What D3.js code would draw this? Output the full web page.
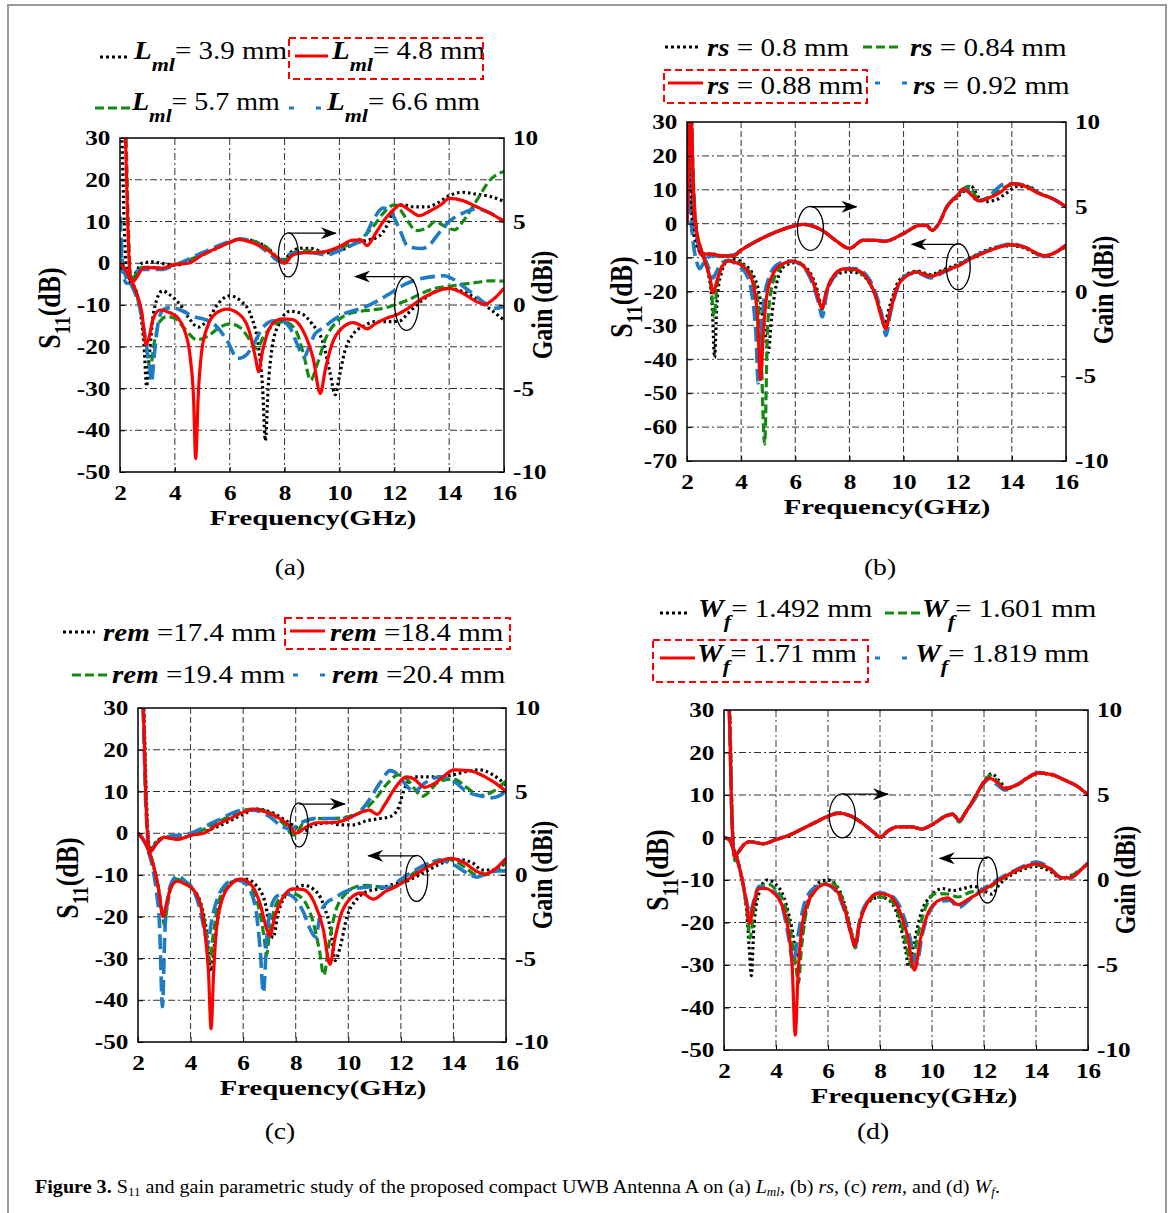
<!DOCTYPE html>
<html>
<head>
<meta charset="utf-8">
<script src="https://cdn.jsdelivr.net/npm/d3@7"></script>
<style>
  body { margin: 0; background: #fff; }
</style>
</head>
<body>
<div id="chart"></div>
<script>
'use strict';

// ---- ticks ----
const freqTicks = [2, 4, 6, 8, 10, 12, 14, 16];
const gainTicks = [-10, -5, 0, 5, 10];
const s11Ticks50 = [-50, -40, -30, -20, -10, 0, 10, 20, 30];
const s11Ticks70 = [-70, -60, -50, -40, -30, -20, -10, 0, 10, 20, 30];

// ---- legend values (order: dotted, red, green, blue) ----
const aLabels = ['3.9', '4.8', '5.7', '6.6'];
const bLabels = ['0.8', '0.88', '0.84', '0.92'];
const cLabels = ['17.4', '18.4', '19.4', '20.4'];
const dLabels = ['1.492', '1.71', '1.601', '1.819'];

// ---- (a) L_ml : S11 (dB) ----
const aS11Dot = [[2.0,-1],[2.2,-2.5],[2.4,-4.5],[2.6,-7],[2.75,-12],[2.88,-20],[2.97,-29.5],[3.07,-22],[3.2,-13],[3.35,-8.5],[3.55,-6.6],[3.8,-7.5],[4.2,-10],[4.5,-13],[4.85,-15.3],[5.2,-13.5],[5.6,-9.5],[6.0,-7.8],[6.4,-9],[6.8,-13],[7.05,-20],[7.2,-30],[7.3,-42.5],[7.4,-30],[7.55,-20],[7.8,-14.5],[8.2,-11.5],[8.6,-12],[9.0,-14.5],[9.4,-19],[9.65,-26],[9.85,-31.5],[10.0,-27],[10.2,-21],[10.5,-17],[10.9,-15],[11.3,-14],[11.8,-14],[12.2,-13.8],[12.5,-12],[12.9,-9.5],[13.3,-7.5],[13.7,-6.3],[14.0,-6],[14.5,-6.8],[15.0,-8.5],[15.5,-11],[16.0,-13.6]];
const aS11Red = [[2.0,0],[2.2,-1.5],[2.4,-4],[2.6,-7],[2.8,-12],[2.95,-19.5],[3.05,-18],[3.2,-13.5],[3.45,-11.2],[3.8,-11.8],[4.1,-13],[4.35,-16],[4.55,-22],[4.68,-32],[4.76,-46.8],[4.85,-32],[4.98,-21],[5.2,-15],[5.5,-12],[5.9,-11],[6.3,-12],[6.7,-16],[6.95,-23],[7.05,-26],[7.2,-21],[7.5,-15],[7.9,-13.3],[8.3,-13.5],[8.7,-16.5],[9.05,-23],[9.3,-31.2],[9.5,-25],[9.75,-19],[10.1,-15.5],[10.5,-14.2],[10.8,-15],[11.0,-15.7],[11.3,-14.5],[11.7,-13.2],[12.1,-12.3],[12.5,-10.8],[13.0,-8.5],[13.5,-6.8],[14.0,-6],[14.5,-7.2],[15.0,-9.2],[15.3,-9.8],[15.6,-8.7],[16.0,-6]];
const aS11Green = [[2.0,0],[2.2,-1.5],[2.4,-4],[2.6,-7.5],[2.8,-13],[2.95,-20],[3.1,-25],[3.25,-19],[3.45,-14],[3.7,-12.8],[4.0,-13.2],[4.4,-16],[4.8,-18.3],[5.2,-17.5],[5.6,-15.5],[6.0,-14.5],[6.4,-15.5],[6.8,-19],[7.0,-20.5],[7.2,-18],[7.6,-14.8],[8.0,-14],[8.4,-16],[8.7,-22],[8.95,-28],[9.2,-24],[9.5,-18],[9.9,-14],[10.4,-12],[11.0,-11.3],[11.6,-10.8],[12.0,-10],[12.5,-8.8],[13.0,-7.2],[13.5,-6],[14.0,-5.5],[14.5,-5],[15.0,-4.6],[15.5,-4.2],[16.0,-4.3]];
const aS11Blue = [[2.0,4.8],[2.1,0],[2.2,-3],[2.4,-5],[2.6,-8],[2.8,-13],[2.95,-19],[3.08,-25],[3.15,-28.5],[3.25,-22],[3.4,-14],[3.6,-11],[3.9,-10.6],[4.3,-11.5],[4.7,-12.8],[5.1,-13.5],[5.5,-15],[5.9,-18.5],[6.3,-22.8],[6.6,-22],[6.9,-19],[7.2,-15.5],[7.6,-13.8],[7.9,-13.8],[8.2,-15.5],[8.5,-20],[8.7,-22.5],[8.9,-20],[9.1,-17],[9.4,-15.5],[9.8,-13.5],[10.2,-12],[10.8,-10.8],[11.4,-9],[11.9,-7],[12.4,-5],[12.9,-3.8],[13.4,-3.2],[13.8,-3],[14.2,-4],[14.6,-6],[15.0,-8],[15.4,-10],[15.7,-10.8],[16.0,-10.3]];
// ---- (a) gain (dBi) ----
const aGainDot = [[2.02,11.5],[2.07,10],[2.15,5],[2.25,2],[2.4,1.5],[2.6,2],[2.8,2.5],[3.2,2.58],[3.5,2.5],[4.0,2.38],[4.5,2.63],[5.0,3],[5.5,3.38],[6.0,3.75],[6.4,3.95],[7.0,3.75],[7.4,3.38],[7.7,2.9],[7.95,2.7],[8.3,3.25],[8.6,3.4],[9.0,3.38],[9.5,3.13],[10.0,3.25],[10.5,3.63],[11.0,3.88],[11.3,4],[11.6,4.38],[11.8,5],[12.0,5.75],[12.3,6],[12.7,5.88],[13.2,5.88],[13.6,6.13],[14.0,6.55],[14.5,6.75],[15.0,6.63],[15.5,6.5],[16.0,6.2]];
const aGainRed = [[2.13,11.5],[2.2,10],[2.28,5],[2.4,1.3],[2.6,1.63],[2.8,2.13],[3.0,2.25],[3.5,2.2],[4.0,2.43],[4.5,2.5],[5.0,3],[5.5,3.38],[6.0,3.75],[6.3,3.93],[6.8,3.75],[7.3,3.38],[7.8,2.75],[8.0,2.5],[8.3,3],[8.7,3.13],[9.2,3.13],[9.6,3.25],[10.0,3.5],[10.5,3.88],[10.8,3.88],[11.0,3.55],[11.3,4.25],[11.6,5],[12.0,5.75],[12.2,6],[12.5,5.75],[12.9,5.35],[13.3,5.63],[13.7,6],[14.0,6.38],[14.5,6.25],[15.0,5.88],[15.5,5.5],[16.0,5]];
const aGainGreen = [[2.16,11.5],[2.22,10],[2.3,5],[2.4,1.5],[2.6,1.88],[2.8,2.25],[3.2,2.25],[3.5,2.2],[4.0,2.43],[5.0,3],[6.0,3.75],[6.4,3.95],[7.0,3.75],[7.5,3.25],[7.9,2.5],[8.2,3],[8.6,3.25],[9.0,3.25],[9.5,3.13],[10.0,3.38],[10.5,3.75],[10.8,4],[11.2,4.63],[11.6,5.5],[12.0,6],[12.2,5.75],[12.5,5],[12.8,4.45],[13.2,4.63],[13.5,5],[13.8,4.75],[14.2,4.5],[14.5,5],[15.0,6.25],[15.5,7.5],[16.0,8]];
const aGainBlue = [[2.0,5.3],[2.05,3.75],[2.12,1.75],[2.25,1.3],[2.4,1.3],[2.6,2],[2.8,2.13],[3.5,2.13],[4.0,2.38],[5.0,3.13],[6.0,3.8],[6.4,3.95],[7.0,3.63],[7.5,3],[7.8,2.63],[8.1,3],[8.5,3.13],[9.0,3.13],[9.5,3],[10.0,3.25],[10.5,3.63],[10.9,4],[11.2,5],[11.6,5.8],[11.9,5.5],[12.2,4.5],[12.5,3.5],[13.0,3.38],[13.3,3.63],[13.6,4.25],[14.0,5],[14.5,5.5],[15.0,5.75],[15.5,5.5],[16.0,5]];

// ---- (b) rs : S11 (dB) ----
const bS11Dot = [[2.0,31],[2.06,20],[2.15,8],[2.25,0],[2.4,-6],[2.6,-10],[2.8,-15],[2.93,-24],[3.02,-39.5],[3.1,-24],[3.25,-15],[3.5,-11],[3.8,-10.5],[4.1,-12],[4.4,-14.5],[4.65,-20],[4.85,-30],[5.0,-38],[5.12,-28],[5.3,-18],[5.6,-12.5],[6.0,-11.5],[6.4,-13],[6.75,-18],[6.98,-24],[7.2,-19],[7.55,-15],[7.9,-14.2],[8.3,-14.5],[8.7,-17],[9.05,-23],[9.3,-29],[9.5,-24],[9.75,-18],[10.1,-15],[10.5,-14],[11.0,-15],[11.5,-13.5],[12.0,-12],[12.5,-10],[13.0,-8],[13.5,-6.8],[14.0,-6.5],[14.5,-7.3],[15.0,-9.2],[15.3,-9.5],[15.6,-8.5],[16.0,-6.8]];
const bS11Red = [[2.0,0],[2.06,15],[2.12,33],[2.16,33],[2.2,20],[2.27,5],[2.35,-2],[2.5,-7],[2.7,-12],[2.85,-16],[2.97,-20.5],[3.1,-17],[3.3,-12.5],[3.55,-11],[3.9,-11.8],[4.2,-13.5],[4.45,-18],[4.6,-27],[4.72,-46],[4.82,-32],[4.95,-21],[5.2,-14.5],[5.5,-12],[5.9,-11],[6.3,-12.5],[6.6,-16],[6.85,-22],[6.98,-25],[7.15,-20],[7.45,-15],[7.8,-13.3],[8.2,-13.5],[8.6,-15.5],[8.95,-21],[9.2,-28],[9.33,-31],[9.5,-26],[9.75,-19],[10.1,-15.5],[10.5,-14.3],[11.0,-15.5],[11.5,-14],[12.0,-12.5],[12.5,-10.3],[13.0,-8.5],[13.5,-7],[14.0,-6.2],[14.5,-7],[15.0,-9],[15.2,-9.5],[15.6,-8.5],[16.0,-6.3]];
const bS11Green = [[2.0,0],[2.06,15],[2.12,33],[2.17,33],[2.21,20],[2.28,5],[2.36,-2],[2.5,-7],[2.7,-12],[2.88,-18],[3.0,-27.5],[3.1,-19],[3.3,-12.5],[3.55,-10.8],[3.9,-11.5],[4.2,-13],[4.5,-18],[4.7,-30],[4.87,-65],[4.97,-32],[5.1,-20],[5.35,-14],[5.7,-11.5],[6.0,-11],[6.3,-12.5],[6.6,-16],[6.85,-22],[6.98,-25.5],[7.15,-20],[7.45,-15],[7.8,-13.5],[8.2,-13.8],[8.6,-15.8],[8.95,-21],[9.2,-28],[9.33,-31],[9.5,-26],[9.75,-19],[10.1,-15.3],[10.5,-14.2],[11.0,-15.2],[11.5,-13.8],[12.0,-12.3],[12.5,-10],[13.0,-8.3],[13.5,-6.9],[14.0,-6.3],[14.5,-7],[15.0,-9],[15.2,-9.4],[15.6,-8.5],[16.0,-6.5]];
const bS11Blue = [[2.0,0],[2.05,12],[2.1,32],[2.16,32],[2.2,18],[2.28,3],[2.4,-5],[2.6,-9],[2.8,-13],[2.96,-16],[3.1,-14],[3.3,-11.5],[3.5,-10.8],[3.9,-12.5],[4.2,-15],[4.42,-22],[4.55,-33],[4.63,-47],[4.73,-33],[4.85,-22],[5.05,-15.5],[5.35,-12],[5.8,-11],[6.2,-12],[6.55,-16],[6.85,-23],[7.0,-27.5],[7.15,-21],[7.45,-15.5],[7.8,-13.3],[8.2,-13.2],[8.6,-15],[8.95,-20],[9.2,-27],[9.35,-33],[9.5,-27],[9.75,-19.5],[10.1,-15.2],[10.5,-14.5],[11.0,-16],[11.5,-14.2],[12.0,-12.5],[12.5,-10],[13.0,-8.3],[13.5,-6.8],[14.0,-6],[14.5,-7],[15.0,-9.2],[15.2,-9.7],[15.6,-8.5],[16.0,-6.3]];
// ---- (b) gain (dBi) ----
const bGainDot = [[2.0,10.5],[2.05,9],[2.12,6],[2.2,4],[2.3,3],[2.45,2.4],[2.7,2.2],[3.0,2.2],[3.3,2.1],[3.7,2.1],[4.0,2.44],[4.6,3],[5.3,3.52],[5.8,3.8],[6.3,3.96],[7.0,3.6],[7.5,3],[8.0,2.54],[8.5,3.02],[9.0,3.02],[9.3,2.96],[10.0,3.42],[10.6,3.9],[10.85,3.9],[11.05,3.6],[11.3,4],[11.6,5],[12.0,5.6],[12.3,6],[12.5,6.2],[12.75,5.6],[13.0,5.3],[13.4,5.4],[13.8,5.8],[14.2,6.2],[14.6,6.2],[15.0,5.8],[15.5,5.48],[16.0,5]];
const bGainRed = [[2.13,11],[2.18,7],[2.25,4.4],[2.35,3.4],[2.5,2.2],[2.9,2.2],[3.3,2.1],[3.7,2.1],[4.0,2.44],[4.6,3],[5.3,3.52],[5.8,3.8],[6.3,3.96],[7.0,3.6],[7.5,3],[8.0,2.54],[8.5,3.02],[9.0,3.02],[9.3,2.96],[10.0,3.42],[10.6,3.9],[10.85,3.9],[11.05,3.6],[11.3,4],[11.6,5],[12.0,5.68],[12.2,6.05],[12.5,5.7],[12.8,5.35],[13.1,5.48],[13.6,5.88],[14.0,6.36],[14.4,6.26],[15.0,5.78],[15.5,5.48],[16.0,5]];
const bGainGreen = [[2.14,11],[2.19,7],[2.26,4.4],[2.36,3.4],[2.5,2.25],[2.9,2.2],[3.3,2.1],[3.7,2.1],[4.0,2.44],[4.6,3],[5.3,3.52],[5.8,3.8],[6.3,3.96],[7.0,3.6],[7.5,3],[8.0,2.54],[8.5,3.02],[9.0,3.02],[9.3,2.96],[10.0,3.42],[10.6,3.9],[10.85,3.9],[11.05,3.6],[11.3,4],[11.6,5],[12.0,5.7],[12.4,6.2],[12.8,5.4],[13.3,5.7],[13.8,6.2],[14.2,6.3],[14.6,6.2],[15.0,5.8],[15.5,5.48],[16.0,5]];
const bGainBlue = [[2.0,10.4],[2.05,8],[2.12,5],[2.22,3],[2.35,1.8],[2.47,1.35],[2.65,1.8],[2.9,2.1],[3.3,2.1],[3.7,2.15],[4.0,2.44],[4.6,3],[5.3,3.52],[5.8,3.8],[6.3,3.96],[7.0,3.6],[7.5,3],[8.0,2.54],[8.5,3.02],[9.0,3.02],[9.3,2.96],[10.0,3.42],[10.6,3.9],[10.85,3.9],[11.05,3.6],[11.3,4],[11.6,5],[12.0,5.7],[12.3,6.05],[12.6,5.5],[12.8,5.35],[13.1,5.5],[13.4,6],[13.75,6.35],[14.2,6.35],[14.6,6.15],[15.0,5.8],[15.5,5.48],[16.0,5]];

// ---- (c) rem : S11 (dB) ----
const cS11Dot = [[2.0,0],[2.2,-1.5],[2.4,-4],[2.6,-8],[2.8,-14],[2.93,-19.5],[3.05,-19],[3.2,-14],[3.45,-11.5],[3.8,-12],[4.1,-13.5],[4.4,-17],[4.6,-23],[4.78,-33],[4.92,-26],[5.1,-18],[5.4,-13],[5.75,-11.2],[6.1,-11],[6.5,-12.5],[6.85,-17],[7.05,-24],[7.15,-25],[7.3,-20],[7.6,-15],[8.0,-13],[8.3,-12.5],[8.7,-13.5],[9.05,-17],[9.35,-24],[9.5,-30.5],[9.7,-27],[9.95,-20],[10.3,-16],[10.7,-14],[11.2,-13.3],[11.7,-12.2],[12.2,-11.5],[12.7,-10],[13.2,-8.3],[13.7,-6.8],[14.2,-6.3],[14.7,-7],[15.1,-8.8],[15.5,-8.8],[16.0,-7]];
const cS11Red = [[2.0,0],[2.2,-1.5],[2.4,-4],[2.6,-8],[2.8,-14],[2.95,-20],[3.08,-17],[3.25,-13],[3.5,-11.5],[3.8,-12.2],[4.1,-13.5],[4.35,-16.5],[4.55,-24],[4.68,-33],[4.78,-46.8],[4.88,-33],[5.0,-22],[5.25,-15],[5.55,-12.2],[5.9,-11],[6.3,-12.3],[6.65,-17],[6.9,-23],[7.02,-24.5],[7.2,-20],[7.5,-15.5],[7.9,-13.3],[8.3,-13.5],[8.7,-16.5],[9.05,-23],[9.3,-31.4],[9.5,-25],[9.75,-19],[10.1,-15.5],[10.5,-14.3],[10.95,-15.8],[11.4,-14],[11.9,-12.5],[12.4,-10.5],[12.9,-8.5],[13.4,-6.9],[13.9,-6],[14.4,-7],[14.9,-9.2],[15.2,-9.8],[15.6,-8.5],[16.0,-6]];
const cS11Green = [[2.0,0],[2.2,-1.5],[2.4,-4],[2.6,-8],[2.8,-14],[2.92,-19],[3.0,-22],[3.1,-18],[3.25,-13],[3.45,-11],[3.8,-12],[4.1,-13.5],[4.4,-17.5],[4.6,-24],[4.73,-30.8],[4.87,-24],[5.05,-17],[5.35,-12.8],[5.7,-11.3],[5.95,-11],[6.3,-12.8],[6.6,-18],[6.8,-25],[6.89,-29.2],[7.0,-24],[7.2,-18],[7.5,-15],[7.9,-14.5],[8.3,-16],[8.65,-21],[8.9,-28],[9.07,-34],[9.25,-27],[9.5,-19],[9.9,-14.5],[10.3,-12.8],[10.7,-12.5],[11.1,-12.8],[11.5,-13.3],[12.0,-11.8],[12.5,-9.5],[13.0,-7.6],[13.5,-6.3],[13.9,-6.3],[14.4,-8],[14.9,-10],[15.2,-10],[15.6,-8.7],[16.0,-7]];
const cS11Blue = [[2.0,0],[2.2,-1.5],[2.4,-4.5],[2.55,-8],[2.7,-14],[2.82,-22],[2.93,-41.5],[3.02,-24],[3.15,-15],[3.3,-11.5],[3.5,-10.2],[3.8,-11.5],[4.1,-13.5],[4.35,-18],[4.55,-24],[4.65,-26.5],[4.8,-21],[5.0,-16],[5.3,-12.5],[5.65,-11.2],[5.95,-11.5],[6.25,-13.5],[6.5,-19],[6.65,-28],[6.77,-38.2],[6.9,-25],[7.05,-18],[7.3,-15],[7.6,-14.5],[7.95,-15.5],[8.3,-19],[8.55,-23],[8.75,-24.8],[8.95,-19],[9.2,-16.5],[9.5,-15.5],[9.8,-14.2],[10.1,-13.5],[10.6,-13],[11.0,-12.8],[11.5,-13],[12.0,-11],[12.5,-9],[13.0,-7.3],[13.5,-6.5],[14.0,-7.5],[14.5,-9.5],[14.9,-10.5],[15.3,-9.5],[15.7,-9],[16.0,-9]];
// ---- (c) gain (dBi) ----
const cGainDot = [[2.16,11.25],[2.22,10],[2.32,4.5],[2.45,1.5],[2.7,2],[3.0,2.25],[3.5,2.18],[4.0,2.35],[5.0,2.88],[6.0,3.63],[6.5,3.95],[7.0,3.8],[7.5,3.38],[8.0,2.88],[8.3,2.63],[8.7,3],[9.3,3.13],[9.7,3],[10.2,3],[10.7,3.25],[11.2,3.38],[11.6,3.5],[11.9,4],[12.1,5],[12.5,5.88],[13.0,5.88],[13.5,5.88],[14.0,6],[14.5,6.2],[15.0,6.3],[15.5,6],[16.0,5.38]];
const cGainRed = [[2.14,11.25],[2.2,10],[2.3,4.5],[2.45,1.38],[2.7,1.88],[3.0,2.25],[3.5,2.13],[4.0,2.38],[4.5,2.5],[5.0,3],[5.5,3.38],[6.0,3.75],[6.4,3.95],[6.9,3.75],[7.4,3.38],[7.8,2.88],[8.0,2.5],[8.4,2.88],[8.8,3.13],[9.3,3.13],[9.8,3.25],[10.3,3.63],[10.8,3.88],[11.1,3.63],[11.4,4.25],[11.8,5.25],[12.2,5.88],[12.5,5.75],[12.9,5.25],[13.3,5.5],[13.7,6],[14.0,6.3],[14.6,6.25],[15.2,5.88],[15.6,5.5],[16.0,5]];
const cGainGreen = [[2.15,11.25],[2.21,10],[2.31,4.5],[2.45,1.38],[2.7,2],[3.0,2.25],[3.5,2.18],[4.0,2.38],[5.0,3.13],[6.0,3.88],[6.4,3.95],[7.0,3.75],[7.5,3.13],[7.95,2.38],[8.3,3.13],[8.8,3.38],[9.4,3.38],[10.0,3.5],[10.6,3.88],[11.0,4.5],[11.5,5.5],[11.9,6],[12.3,5.63],[12.55,5.1],[12.8,4.7],[13.5,5.63],[14.0,5.75],[14.5,5.25],[15.0,4.75],[15.5,5],[16.0,5.63]];
const cGainBlue = [[2.13,11.25],[2.19,10],[2.29,4.5],[2.45,1.38],[2.7,1.88],[3.0,2.25],[4.0,2.5],[5.0,3.25],[6.0,3.88],[6.4,3.88],[7.0,3.5],[7.5,2.88],[7.8,2.75],[8.2,3.13],[8.7,3.38],[9.3,3.38],[9.8,3.38],[10.4,3.75],[10.8,4.5],[11.2,5.5],[11.6,6.25],[11.9,6],[12.2,5.38],[12.5,5],[12.9,5.5],[13.5,5.88],[14.0,5.63],[14.5,5],[15.0,4.75],[15.5,4.63],[16.0,5]];

// ---- (d) W_f : S11 (dB) ----
const dS11Dot = [[2.0,0],[2.2,-0.5],[2.35,-2.5],[2.5,-5],[2.7,-10],[2.88,-18],[2.98,-27],[3.05,-32.5],[3.15,-21],[3.35,-13],[3.65,-10],[3.95,-10.8],[4.3,-14],[4.6,-21],[4.82,-28],[4.95,-25],[5.15,-17],[5.45,-12],[5.8,-10.2],[6.0,-10],[6.35,-11.5],[6.7,-17],[6.95,-23.5],[7.05,-25.5],[7.25,-19],[7.6,-15],[8.0,-14],[8.4,-15],[8.75,-20],[9.0,-27],[9.1,-30.4],[9.3,-25],[9.6,-17.5],[10.0,-13.5],[10.4,-12],[10.8,-12.5],[11.2,-12],[11.6,-11.5],[12.0,-12.5],[12.3,-13.3],[12.6,-11],[13.0,-9],[13.5,-7.5],[14.0,-6.8],[14.5,-7.8],[15.0,-9.6],[15.4,-8.8],[16.0,-6.2]];
const dS11Red = [[2.0,0],[2.2,-0.5],[2.35,-2.5],[2.5,-5],[2.7,-10],[2.88,-16],[2.99,-20.2],[3.12,-16],[3.35,-12],[3.6,-12],[3.9,-13],[4.2,-15.5],[4.45,-21],[4.62,-30],[4.74,-46.5],[4.85,-32],[5.0,-21],[5.25,-15],[5.55,-12.2],[5.9,-11],[6.3,-12.3],[6.65,-17],[6.9,-23],[7.02,-25.5],[7.2,-20.5],[7.5,-15.5],[7.9,-13.2],[8.3,-13.5],[8.7,-16.5],[9.05,-23],[9.33,-31.2],[9.55,-24],[9.8,-18.5],[10.2,-15],[10.6,-14.2],[11.0,-15.8],[11.4,-14.5],[12.0,-12.3],[12.5,-10.3],[13.0,-8.5],[13.5,-7],[14.0,-6.2],[14.5,-7.2],[15.0,-9.5],[15.3,-9.5],[15.7,-7.8],[16.0,-6]];
const dS11Green = [[2.0,0],[2.2,-0.5],[2.35,-2.5],[2.5,-5],[2.7,-10],[2.88,-17],[3.0,-23.7],[3.15,-17],[3.4,-11.5],[3.7,-11],[4.0,-12.3],[4.35,-16],[4.62,-24],[4.78,-31],[4.86,-34.3],[4.98,-26],[5.15,-18],[5.45,-13],[5.8,-11],[6.1,-10.6],[6.5,-13.5],[6.85,-21],[7.05,-26],[7.25,-19],[7.65,-14.5],[8.0,-14],[8.45,-15],[8.85,-21],[9.1,-28],[9.22,-30.5],[9.42,-24],[9.75,-16.5],[10.15,-13.2],[10.6,-13.3],[11.0,-14],[11.5,-12.8],[12.0,-12.5],[12.5,-10.5],[13.0,-8.6],[13.5,-7.2],[14.0,-6.5],[14.5,-7.3],[15.0,-9.5],[15.4,-8.8],[16.0,-6]];
const dS11Blue = [[2.0,0],[2.2,-0.5],[2.35,-2.5],[2.5,-5],[2.7,-10],[2.85,-14.5],[3.0,-18],[3.12,-15.5],[3.35,-11.5],[3.7,-12.3],[4.0,-13.2],[4.25,-16.5],[4.5,-24],[4.66,-29.6],[4.82,-24],[5.05,-16.5],[5.4,-12.2],[5.85,-11],[6.25,-12.2],[6.65,-17.5],[6.95,-24],[7.05,-25.5],[7.22,-19.5],[7.55,-14.8],[8.0,-13],[8.45,-13.8],[8.85,-17.5],[9.15,-23.5],[9.4,-30],[9.62,-23],[9.9,-17.5],[10.3,-15],[10.7,-14.8],[11.0,-16.5],[11.5,-14.3],[12.0,-12],[12.5,-10],[13.0,-8.3],[13.5,-6.8],[14.0,-5.8],[14.5,-7],[15.0,-9.5],[15.3,-9.5],[15.7,-7.8],[16.0,-6]];
// ---- (d) gain (dBi) ----
const dGainDot = [[2.15,11.25],[2.21,10],[2.31,3.75],[2.4,1.38],[2.6,1.75],[2.8,2.13],[3.0,2.25],[3.5,2.13],[4.0,2.38],[4.5,2.63],[5.0,3],[5.5,3.38],[6.0,3.75],[6.4,3.93],[6.9,3.75],[7.4,3.25],[7.8,2.75],[8.0,2.5],[8.3,2.88],[8.7,3.13],[9.2,3.13],[9.6,3],[10.0,3.25],[10.5,3.75],[10.8,3.88],[11.05,3.5],[11.3,4],[11.7,5],[12.0,5.8],[12.3,6.25],[12.6,5.8],[12.9,5.4],[13.3,5.63],[13.8,6.1],[14.1,6.28],[14.6,6.2],[15.1,5.88],[15.6,5.5],[16.0,5]];
const dGainRed = [[2.14,11.25],[2.2,10],[2.3,3.75],[2.4,1.38],[2.6,1.75],[2.8,2.13],[3.0,2.25],[3.5,2.13],[4.0,2.38],[4.5,2.63],[5.0,3],[5.5,3.38],[6.0,3.75],[6.4,3.93],[6.9,3.75],[7.4,3.25],[7.8,2.75],[8.0,2.5],[8.3,2.88],[8.7,3.13],[9.2,3.13],[9.6,3],[10.0,3.25],[10.5,3.75],[10.8,3.88],[11.05,3.5],[11.3,4],[11.7,5],[12.0,5.75],[12.2,6],[12.5,5.75],[12.8,5.38],[13.3,5.63],[13.8,6.13],[14.1,6.3],[14.6,6.2],[15.1,5.88],[15.6,5.5],[16.0,5]];
const dGainGreen = [[2.16,11.25],[2.22,10],[2.32,3.5],[2.42,1.13],[2.6,1.7],[2.8,2.13],[3.0,2.25],[3.5,2.13],[4.0,2.38],[4.5,2.63],[5.0,3],[5.5,3.38],[6.0,3.75],[6.4,3.9],[6.9,3.75],[7.4,3.25],[7.8,2.75],[8.0,2.5],[8.3,2.88],[8.7,3.13],[9.2,3.13],[9.6,3],[10.0,3.25],[10.5,3.7],[10.8,3.85],[11.05,3.4],[11.3,4],[11.7,5],[12.0,5.8],[12.25,6.15],[12.55,5.75],[12.85,5.35],[13.3,5.6],[13.8,6.1],[14.1,6.28],[14.6,6.2],[15.1,5.88],[15.6,5.5],[16.0,5]];
const dGainBlue = [[2.14,11.25],[2.2,10],[2.3,3.75],[2.4,1.4],[2.6,1.75],[2.8,2.13],[3.0,2.25],[3.5,2.13],[4.0,2.38],[4.5,2.63],[5.0,3],[5.5,3.38],[6.0,3.75],[6.4,3.95],[6.9,3.75],[7.4,3.25],[7.8,2.75],[8.0,2.5],[8.3,2.88],[8.7,3.13],[9.2,3.13],[9.6,3],[10.0,3.25],[10.5,3.75],[10.8,3.88],[11.05,3.5],[11.3,4],[11.7,4.9],[12.0,5.7],[12.2,5.95],[12.5,5.6],[12.8,5.3],[13.3,5.63],[13.8,6.15],[14.1,6.32],[14.6,6.22],[15.1,5.88],[15.6,5.5],[16.0,5]];

// ---- look ----
const W = 1171, H = 1213;
const SX = 1.2; // the reference is stretched sideways
const FONT = '"Liberation Serif","Times New Roman",serif';
const styles = [
    { color: '#000000', dash: '2.5,3', width: 3.2 },
    { color: '#ff0000', dash: null, width: 3.2 },
    { color: '#138a13', dash: '9,4', width: 3.2 },
    { color: '#1f7cc4', dash: '15,6', width: 3.6 }
];
const drawOrder = [0, 2, 3, 1];

const panels = [
    {
        left: 120, top: 138, right: 504, bottom: 472,
        s11Domain: [-50, 30], s11Ticks: s11Ticks50,
        s11: [aS11Dot, aS11Red, aS11Green, aS11Blue],
        gain: [aGainDot, aGainRed, aGainGreen, aGainBlue],
        s11Label: [60, 308], gainLabel: [552, 305], freqX: 313, vDash: '7,3,2,3',
        tag: '(a)', tagPos: [290, 575],
        ellipses: [{ f: 8.14, v: 2, rx: 10, ry: 22, ay: 7.2, ax: 9.87 }, { f: 12.45, v: -9.6, rx: 12, ry: 27, ay: -3.2, ax: 10.57 }],
        labels: aLabels, sym: 'L', sub: 'ml', subDy: 12, text: v => '= ' + v + ' mm',
        legend: [
            { x1: 100, x2: 128, ly: 57, tx: 134, ty: 59 },
            { x1: 295, x2: 328, ly: 56, tx: 332, ty: 59 },
            { x1: 95, x2: 130, ly: 108, tx: 132, ty: 110 },
            { x1: 289, x2: 321, ly: 108, tx: 327, ty: 110 }
        ],
        box: [289, 38, 194, 41]
    },
    {
        left: 687, top: 122, right: 1066, bottom: 461,
        s11Domain: [-70, 30], s11Ticks: s11Ticks70,
        s11: [bS11Dot, bS11Red, bS11Green, bS11Blue],
        gain: [bGainDot, bGainRed, bGainGreen, bGainBlue],
        s11Label: [632, 297], gainLabel: [1113, 290], freqX: 887, vDash: '6,3',
        tag: '(b)', tagPos: [880, 575],
        ellipses: [{ f: 6.56, v: -1.4, rx: 13, ry: 22, ay: 5, ax: 8.26 }, { f: 12.02, v: -12.7, rx: 12, ry: 23, ay: -6.1, ax: 10.3 }],
        labels: bLabels, sym: 'rs', sub: null, subDy: 0, text: v => ' = ' + v + ' mm',
        legend: [
            { x1: 665, x2: 698, ly: 47, tx: 707, ty: 56 },
            { x1: 668, x2: 703, ly: 83, tx: 707, ty: 94 },
            { x1: 863, x2: 902, ly: 47, tx: 910, ty: 56 },
            { x1: 875, x2: 907, ly: 83, tx: 913, ty: 94 }
        ],
        box: [664, 70, 203, 33]
    },
    {
        left: 138, top: 708, right: 506, bottom: 1042,
        s11Domain: [-50, 30], s11Ticks: s11Ticks50,
        s11: [cS11Dot, cS11Red, cS11Green, cS11Blue],
        gain: [cGainDot, cGainRed, cGainGreen, cGainBlue],
        s11Label: [78, 878], gainLabel: [552, 875], freqX: 323, vDash: '6,3',
        tag: '(c)', tagPos: [280, 1139],
        ellipses: [{ f: 8.13, v: 2, rx: 9, ry: 22, ay: 7, ax: 9.87 }, { f: 12.6, v: -10.8, rx: 11, ry: 23, ay: -5.4, ax: 10.76 }],
        labels: cLabels, sym: 'rem', sub: null, subDy: 0, text: v => ' =' + v + ' mm',
        legend: [
            { x1: 63, x2: 95, ly: 632, tx: 103, ty: 641 },
            { x1: 290, x2: 325, ly: 631, tx: 330, ty: 641 },
            { x1: 72, x2: 108, ly: 675, tx: 112, ty: 683 },
            { x1: 293, x2: 327, ly: 675, tx: 332, ty: 683 }
        ],
        box: [285, 618, 225, 31]
    },
    {
        left: 724, top: 710, right: 1088, bottom: 1050,
        s11Domain: [-50, 30], s11Ticks: s11Ticks50,
        s11: [dS11Dot, dS11Red, dS11Green, dS11Blue],
        gain: [dGainDot, dGainRed, dGainGreen, dGainBlue],
        s11Label: [668, 870], gainLabel: [1135, 880], freqX: 914, vDash: '7,3,2,3',
        tag: '(d)', tagPos: [873, 1139],
        ellipses: [{ f: 6.55, v: 5.1, rx: 13, ry: 22, ay: 10.2, ax: 8.31 }, { f: 12.13, v: -10, rx: 10, ry: 23, ay: -4.9, ax: 10.3 }],
        labels: dLabels, sym: 'W', sub: 'f', subDy: 11, text: v => '= ' + v + ' mm',
        legend: [
            { x1: 660, x2: 688, ly: 613, tx: 698, ty: 617 },
            { x1: 660, x2: 695, ly: 658, tx: 697, ty: 662 },
            { x1: 885, x2: 920, ly: 613, tx: 922, ty: 617 },
            { x1: 875, x2: 910, ly: 658, tx: 915, ty: 662 }
        ],
        box: [653, 640, 215, 42]
    }
];

var svg = d3.select('#chart').append('svg')
    .attr('width', W).attr('height', H)
    .style('font-family', FONT);

svg.append('rect').attr('width', W).attr('height', H).attr('fill', '#fff');

// arrow head
svg.append('defs').append('marker')
    .attr('id', 'arrow')
    .attr('viewBox', '0 0 16 12')
    .attr('refX', 15).attr('refY', 6)
    .attr('markerWidth', 16).attr('markerHeight', 12)
    .attr('markerUnits', 'userSpaceOnUse')
    .attr('orient', 'auto')
    .append('path').attr('d', 'M0,0 L16,6 L0,12 L5,6 Z').attr('fill', '#000');

// outer frame
svg.append('rect')
    .attr('x', 8).attr('y', 5).attr('width', 1158).attr('height', 1240)
    .attr('fill', 'none').attr('stroke', '#9a9a9a').attr('stroke-width', 2);

function stretchedText(parent, x, y, size, weight, anchor, sx) {
    return parent.append('text')
        .attr('transform', 'translate(' + x + ',' + y + ') scale(' + (sx || SX) + ',1)')
        .attr('text-anchor', anchor || 'start')
        .style('font-size', size + 'px')
        .style('font-weight', weight || 'normal')
        .attr('fill', '#000');
}

panels.forEach(function (p, pi) {
    var g = svg.append('g');
    var x = d3.scaleLinear().domain([2, 16]).range([p.left, p.right]);
    var y = d3.scaleLinear().domain(p.s11Domain).range([p.bottom, p.top]);
    var yg = d3.scaleLinear().domain([-10, 10]).range([p.bottom, p.top]);

    // grid
    var grid = g.append('g').attr('stroke', '#333').attr('stroke-width', 1);
    p.s11Ticks.slice(1, -1).forEach(function (t) {
        grid.append('line')
            .attr('x1', p.left).attr('x2', p.right)
            .attr('y1', y(t)).attr('y2', y(t))
            .attr('stroke-dasharray', '7,3,2,3');
    });
    freqTicks.slice(1, -1).forEach(function (t) {
        grid.append('line')
            .attr('x1', x(t)).attr('x2', x(t))
            .attr('y1', p.top).attr('y2', p.bottom)
            .attr('stroke-dasharray', p.vDash);
    });

    // clip
    var clipId = 'clip' + pi;
    g.append('clipPath').attr('id', clipId).append('rect')
        .attr('x', p.left).attr('y', p.top)
        .attr('width', p.right - p.left).attr('height', p.bottom - p.top);

    var curves = g.append('g').attr('clip-path', 'url(#' + clipId + ')');
    var lineS11 = d3.line().x(d => x(d[0])).y(d => y(d[1])).curve(d3.curveMonotoneX);
    var lineGain = d3.line().x(d => x(d[0])).y(d => yg(d[1])).curve(d3.curveMonotoneX);

    function drawCurve(data, gen, s) {
        curves.append('path')
            .attr('d', gen(data))
            .attr('fill', 'none')
            .attr('stroke', s.color)
            .attr('stroke-width', s.width)
            .attr('stroke-dasharray', s.dash)
            .attr('stroke-linejoin', 'round');
    }
    drawOrder.forEach(function (i) { drawCurve(p.gain[i], lineGain, styles[i]); });
    drawOrder.forEach(function (i) { drawCurve(p.s11[i], lineS11, styles[i]); });

    // frame
    g.append('rect')
        .attr('x', p.left).attr('y', p.top)
        .attr('width', p.right - p.left).attr('height', p.bottom - p.top)
        .attr('fill', 'none').attr('stroke', '#000').attr('stroke-width', 1.5);

    // axes
    function styleAxis(sel) {
        sel.select('.domain').remove();
        sel.selectAll('.tick line').attr('stroke', '#000');
        sel.selectAll('.tick text')
            .attr('fill', '#000')
            .style('font-family', FONT)
            .style('font-size', '21px')
            .style('font-weight', 'bold')
            .attr('transform', 'scale(' + SX + ',1)');
    }
    var plain = d => String(d);
    g.append('g').attr('transform', 'translate(' + p.left + ',0)')
        .call(d3.axisLeft(y).tickValues(p.s11Ticks).tickFormat(plain).tickSize(-5).tickPadding(8))
        .call(styleAxis);
    g.append('g').attr('transform', 'translate(' + p.right + ',0)')
        .call(d3.axisRight(yg).tickValues(gainTicks).tickFormat(plain).tickSize(-5).tickPadding(7.5))
        .call(styleAxis);
    g.append('g').attr('transform', 'translate(0,' + p.bottom + ')')
        .call(d3.axisBottom(x).tickValues(freqTicks).tickFormat(plain).tickSize(-5).tickPadding(13))
        .call(styleAxis);

    // axis titles
    stretchedText(g, p.freqX, p.bottom + 53, 22, 'bold', 'middle')
        .attr('textLength', 172).attr('lengthAdjust', 'spacingAndGlyphs')
        .text('Frequency(GHz)');

    var s11t = g.append('text')
        .attr('transform', 'translate(' + p.s11Label[0] + ',' + p.s11Label[1] + ') scale(' + SX + ',1) rotate(-90)')
        .attr('text-anchor', 'middle')
        .style('font-size', '26px').style('font-weight', 'bold');
    s11t.append('tspan').text('S');
    s11t.append('tspan').attr('dy', 8).style('font-size', '19px').text('11');
    s11t.append('tspan').attr('dy', -8).text('(dB)');

    g.append('text')
        .attr('transform', 'translate(' + p.gainLabel[0] + ',' + p.gainLabel[1] + ') scale(' + SX + ',1) rotate(-90)')
        .attr('text-anchor', 'middle')
        .style('font-size', '24px').style('font-weight', 'bold')
        .text('Gain (dBi)');

    stretchedText(g, p.tagPos[0], p.tagPos[1], 23, 'normal', 'middle').text(p.tag);

    // ellipses and arrows
    p.ellipses.forEach(function (e) {
        g.append('ellipse')
            .attr('cx', x(e.f)).attr('cy', y(e.v))
            .attr('rx', e.rx).attr('ry', e.ry)
            .attr('fill', 'none').attr('stroke', '#000').attr('stroke-width', 1.3);
        g.append('line')
            .attr('x1', x(e.f)).attr('y1', y(e.ay))
            .attr('x2', x(e.ax)).attr('y2', y(e.ay))
            .attr('stroke', '#000').attr('stroke-width', 1.3)
            .attr('marker-end', 'url(#arrow)');
    });

    // legend
    var leg = svg.append('g');
    p.legend.forEach(function (L, i) {
        var s = styles[i];
        var dash = s.dash;
        if (i === 3) dash = '5,22';
        if (i === 0) dash = '3,3';
        leg.append('line')
            .attr('x1', L.x1).attr('x2', L.x2).attr('y1', L.ly).attr('y2', L.ly)
            .attr('stroke', s.color).attr('stroke-width', 3.2)
            .attr('stroke-dasharray', dash);
        var t = stretchedText(leg, L.tx, L.ty, 25, 'normal', 'start', pi === 0 && i === 2 ? 1.12 : 1.16);
        t.append('tspan').style('font-weight', 'bold').style('font-style', 'italic').text(p.sym);
        if (p.sub) {
            t.append('tspan').attr('dy', p.subDy)
                .style('font-weight', 'bold').style('font-style', 'italic').style('font-size', '19px')
                .text(p.sub);
            t.append('tspan').attr('dy', -p.subDy).text(p.text(p.labels[i]));
        } else {
            t.append('tspan').text(p.text(p.labels[i]));
        }
    });
    leg.append('rect')
        .attr('x', p.box[0]).attr('y', p.box[1]).attr('width', p.box[2]).attr('height', p.box[3])
        .attr('fill', 'none').attr('stroke', '#ff0000').attr('stroke-width', 2)
        .attr('stroke-dasharray', '7,4');
});

// caption
var cap = svg.append('text')
    .attr('x', 35).attr('y', 1193)
    .attr('textLength', 965).attr('lengthAdjust', 'spacingAndGlyphs')
    .style('font-size', '18.5px').attr('fill', '#000');
cap.append('tspan').style('font-weight', 'bold').text('Figure 3.');
cap.append('tspan').text(' S');
cap.append('tspan').attr('dy', 3).style('font-size', '12px').text('11');
cap.append('tspan').attr('dy', -3).text(' and gain parametric study of the proposed compact UWB Antenna A on (a) ');
cap.append('tspan').style('font-style', 'italic').text('L');
cap.append('tspan').attr('dy', 3).style('font-style', 'italic').style('font-size', '12px').text('ml');
cap.append('tspan').attr('dy', -3).text(', (b) ');
cap.append('tspan').style('font-style', 'italic').text('rs');
cap.append('tspan').text(', (c) ');
cap.append('tspan').style('font-style', 'italic').text('rem');
cap.append('tspan').text(', and (d) ');
cap.append('tspan').style('font-style', 'italic').text('W');
cap.append('tspan').attr('dy', 3).style('font-style', 'italic').style('font-size', '12px').text('f');
cap.append('tspan').attr('dy', -3).text('.');
</script>
</body>
</html>
